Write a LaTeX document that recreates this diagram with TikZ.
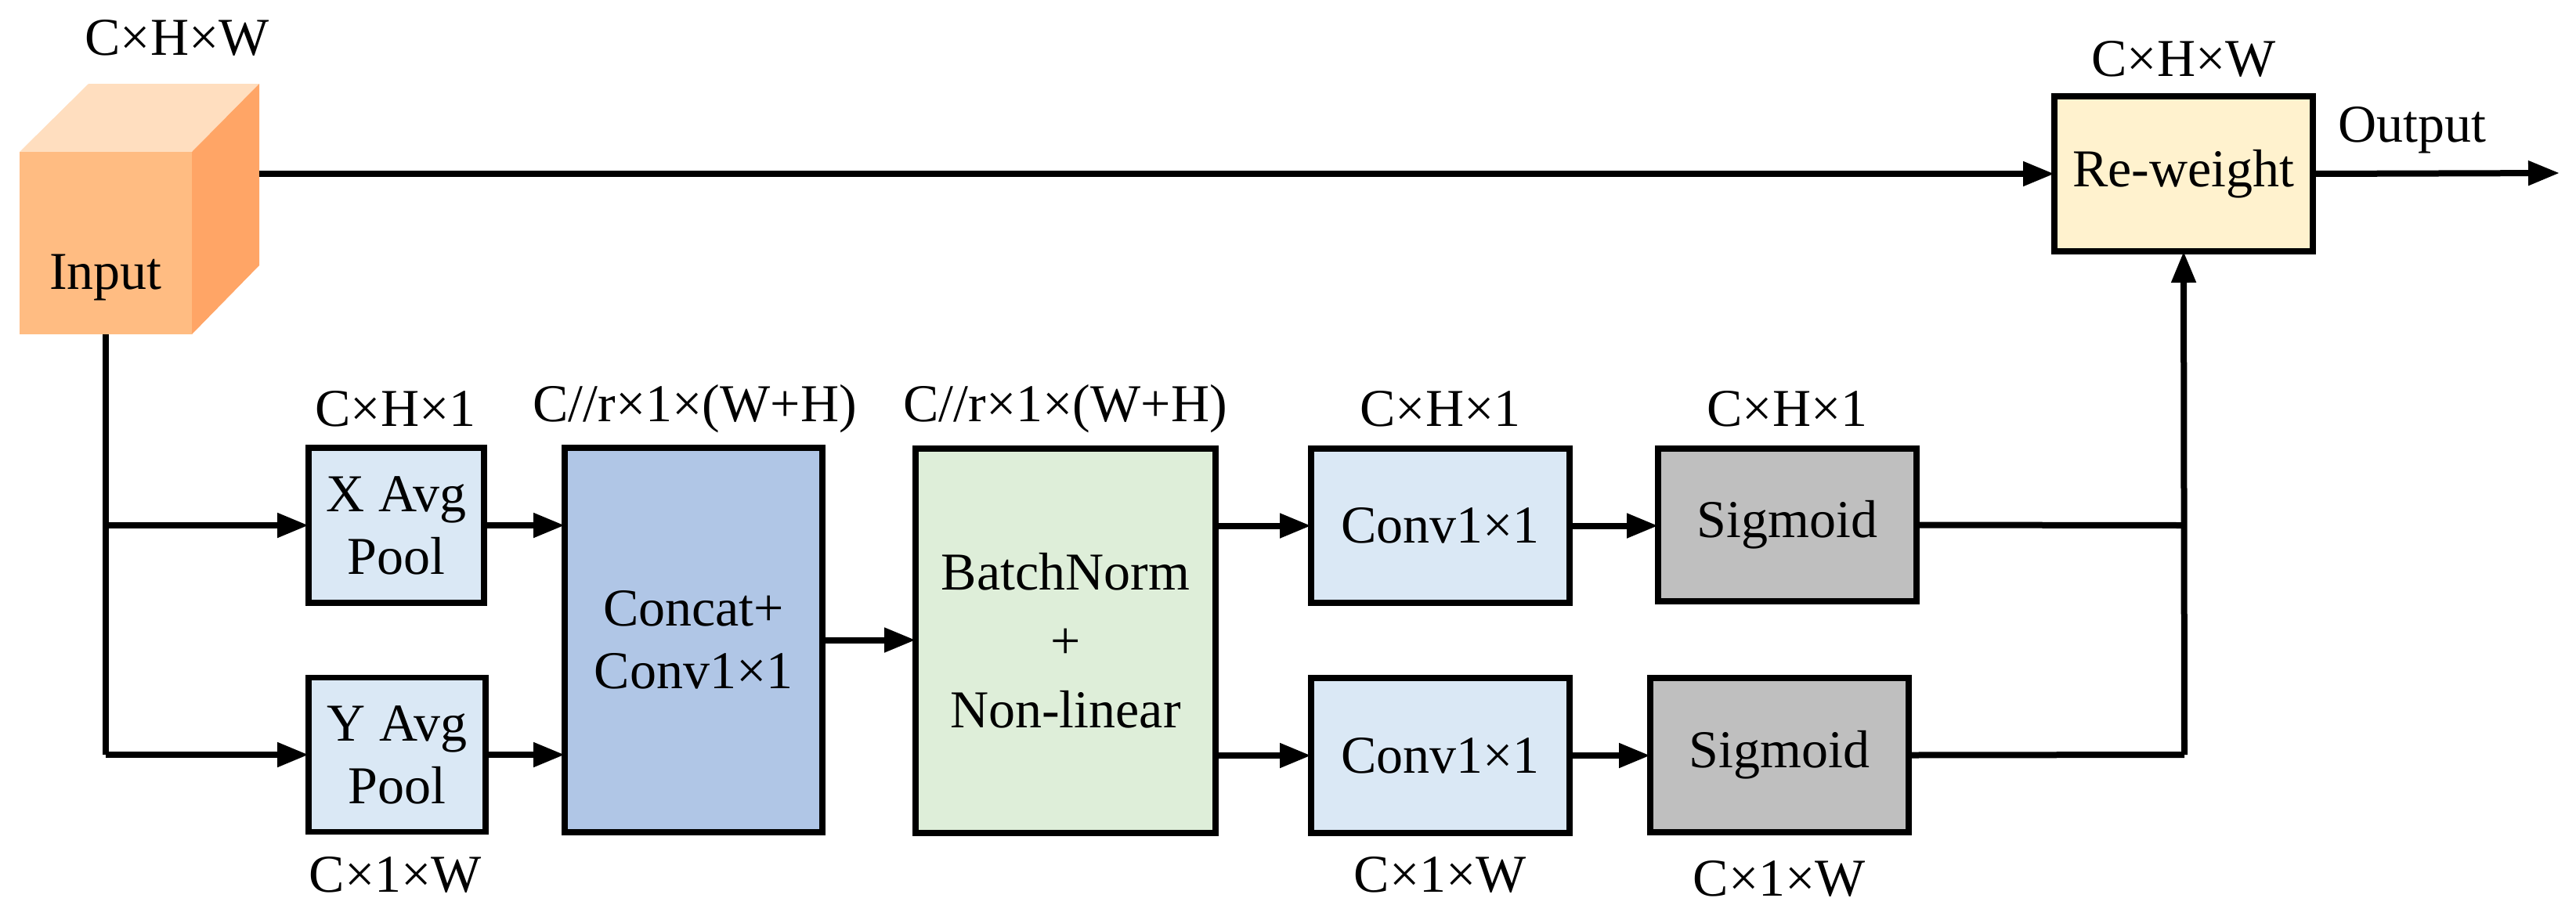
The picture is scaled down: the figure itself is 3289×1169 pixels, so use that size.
\documentclass[tikz,border=0pt]{standalone}
\usepackage{fontspec}
\setmainfont{Liberation Serif}
\usetikzlibrary{arrows.meta}
\definecolor{cfront}{HTML}{FFBC82}
\definecolor{ctop}{HTML}{FFDEBF}
\definecolor{cside}{HTML}{FFA566}
\definecolor{cpool}{HTML}{DAE8F5}
\definecolor{ccat}{HTML}{B0C6E6}
\definecolor{cbn}{HTML}{DEEED9}
\definecolor{csig}{HTML}{BFBFBF}
\definecolor{crw}{HTML}{FFF2CE}
\begin{document}
\begin{tikzpicture}[x=0.5pt,y=-0.5pt,
  box/.style={draw=black,line width=3.6pt,inner sep=0pt,outer sep=0pt,align=center,font=\fontsize{34}{40}\selectfont},
  lab/.style={font=\fontsize{34}{40}\selectfont,inner sep=0pt},
  arr/.style={line width=4pt,-{Triangle[length=20pt,width=15pt]}},
  ln/.style={line width=4pt}]
\useasboundingbox (0,0) rectangle (3289,1169);
% cube
\fill[ctop] (25,194) -- (113,107) -- (331,107) -- (245,194) -- cycle;
\fill[cside] (245,194) -- (331,107) -- (331,339) -- (245,427) -- cycle;
\fill[cfront] (25,194) rectangle (245,427);
\node[lab] (input) at (135,354) {Input};
\coordinate (cubeR) at (331,222);
\coordinate (cubeB) at (135,427);
\node[lab] (l0) at (226,48) {C×H×W};
% boxes
\node[box,fill=cpool,minimum width=112pt,minimum height=99pt] (xp) at (506,671) {X Avg\\Pool};
\node[box,fill=cpool,minimum width=113pt,minimum height=98.5pt] (yp) at (507,964) {Y Avg\\Pool};
\node[box,fill=ccat,minimum width=164.5pt,minimum height=245.5pt] (cat) at (885.5,817.5) {Concat+\\Conv1×1};
\node[box,fill=cbn,minimum width=191.5pt,minimum height=245.5pt,align=center] (bn) at (1360.5,818.5) {BatchNorm\\[4pt]+\\[4pt]Non-linear};
\node[box,fill=cpool,minimum width=165pt,minimum height=98.5pt] (c1) at (1839,671.5) {Conv1×1};
\node[box,fill=cpool,minimum width=165pt,minimum height=99pt] (c2) at (1839,965) {Conv1×1};
\node[box,fill=csig,minimum width=165pt,minimum height=97.5pt] (s1) at (2282,670.5) {Sigmoid};
\node[box,fill=csig,minimum width=165pt,minimum height=98.5pt] (s2) at (2272,964.5) {Sigmoid};
\node[box,fill=crw,minimum width=165pt,minimum height=99pt] (rw) at (2788,222) {Re-weight};
% labels
\node[lab] at (505,522) {C×H×1};
\node[lab] at (887,522) {C//r×1×(W+H)};
\node[lab] at (1360,522) {C//r×1×(W+H)};
\node[lab] at (1839,522) {C×H×1};
\node[lab] at (2282,522) {C×H×1};
\node[lab] at (505,1117) {C×1×W};
\node[lab] at (1839,1117) {C×1×W};
\node[lab] at (2272,1122) {C×1×W};
\node[lab] at (2788,75) {C×H×W};
\node[lab] at (3080,166) {Output};
% connectors
\coordinate (j1) at (135,671);
\coordinate (j2) at (135,964);
\coordinate (j3) at (2789,671);
\coordinate (j4) at (2789,964);
\coordinate (out) at (3268,221);
\draw[arr] (cubeR) -- (rw.west);
\draw[ln] (cubeB) -- (j2);
\draw[arr] (j1) -- (xp.west);
\draw[arr] (j2) -- (yp.west);
\draw[arr] (xp.east) -- (xp.east -| cat.west);
\draw[arr] (yp.east) -- (yp.east -| cat.west);
\draw[arr] (cat.east) -- (cat.east -| bn.west);
\draw[arr] (c1.west -| bn.east) -- (c1.west);
\draw[arr] (c2.west -| bn.east) -- (c2.west);
\draw[arr] (c1.east) -- (c1.east -| s1.west);
\draw[arr] (c2.east) -- (c2.east -| s2.west);
\draw[ln] (s1.east) -- (j3);
\draw[ln] (s2.east) -- (j4);
\draw[arr] (j4) -- (rw.south);
\draw[arr] (rw.east) -- (out);
\end{tikzpicture}
\end{document}
